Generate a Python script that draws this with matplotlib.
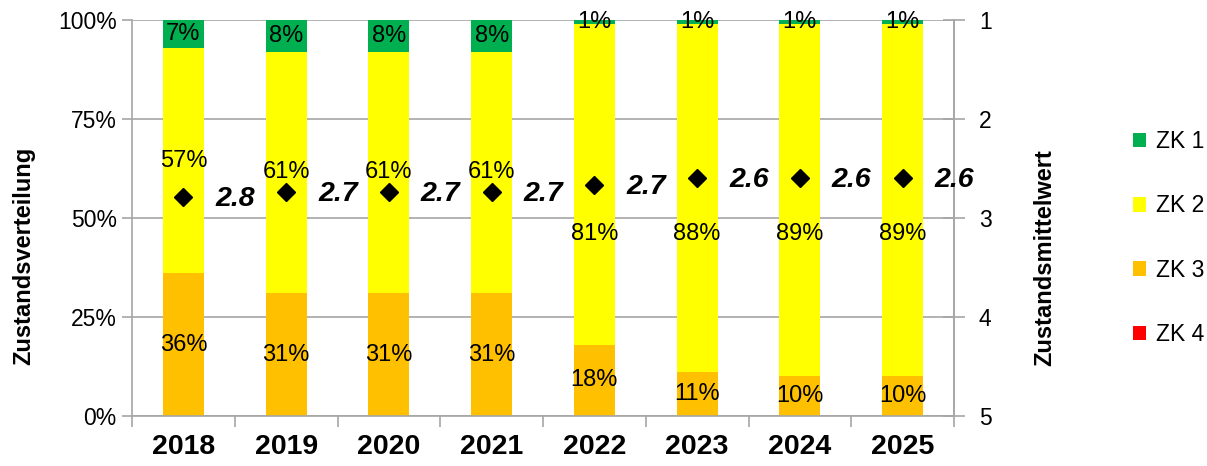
import matplotlib.pyplot as plt
from matplotlib.patches import Patch
from matplotlib.ticker import FixedLocator

plt.rcParams['font.family'] = ['Liberation Sans', 'DejaVu Sans']

# Zustandsklassen je Jahr (Anteile in %)
jahre = ['2018', '2019', '2020', '2021', '2022', '2023', '2024', '2025']
zk1 = [7, 8, 8, 8, 1, 1, 1, 1]
zk2 = [57, 61, 61, 61, 81, 88, 89, 89]
zk3 = [36, 31, 31, 31, 18, 11, 10, 10]
zk4 = [0, 0, 0, 0, 0, 0, 0, 0]
mittelwert = [2.79, 2.74, 2.74, 2.74, 2.67, 2.60, 2.60, 2.60]

# Hoehe der ZK 2 Beschriftung (in %), damit sie nicht auf der Raute liegt
zk2_label_y = [64.5, 61.5, 61.5, 61.5, 46, 46, 46, 46]

farben = {'ZK 1': '#00B050', 'ZK 2': '#FFFF00', 'ZK 3': '#FFC000', 'ZK 4': '#FF0000'}
grau = '#A6A6A6'

fig = plt.figure(figsize=(12.07, 4.66), dpi=100)
ax = fig.add_axes([132 / 1207, 1 - 416 / 466, (954 - 132) / 1207, (416 - 20) / 466])

x = list(range(len(jahre)))
breite = 0.4
unten = [0] * len(x)
for name, werte in [('ZK 4', zk4), ('ZK 3', zk3), ('ZK 2', zk2), ('ZK 1', zk1)]:
    ax.bar(x, werte, breite, bottom=unten, color=farben[name], linewidth=0, zorder=2)
    for i, v in enumerate(werte):
        if v == 0:
            continue
        y = unten[i] + v / 2
        if name == 'ZK 2':
            y = zk2_label_y[i]
        ax.text(x[i], y, f'{v}%', ha='center', va='center', fontsize=17, zorder=4)
    unten = [u + w for u, w in zip(unten, werte)]

ax.set_xlim(-0.5, len(jahre) - 0.5)
ax.set_ylim(0, 100)
ax.set_yticks([0, 25, 50, 75, 100])
ax.set_yticklabels(['0%', '25%', '50%', '75%', '100%'], fontsize=16.5)
ax.yaxis.grid(True, color=grau, linewidth=1.2, zorder=0)
ax.set_axisbelow(True)

ax.set_xticks(x)
ax.set_xticklabels(jahre, fontsize=20.5, fontweight='bold')
ax.xaxis.set_minor_locator(FixedLocator([i - 0.5 for i in range(len(jahre) + 1)]))
ax.tick_params(axis='x', which='major', length=0, pad=13)
ax.tick_params(axis='x', which='minor', length=8, color=grau, width=1.2)
ax.tick_params(axis='y', length=7, color=grau, width=1.2, pad=4)

ax.spines['top'].set_visible(False)
for s in ['left', 'bottom', 'right']:
    ax.spines[s].set_color(grau)
    ax.spines[s].set_linewidth(1.2)

ax.set_ylabel('Zustandsverteilung', fontsize=17, fontweight='bold')
ax.yaxis.set_label_coords(-0.118, 0.405)

# Zustandsmittelwert auf der rechten Achse (1 oben, 5 unten)
ax2 = ax.twinx()
ax2.set_ylim(5, 1)
ax2.set_yticks([1, 2, 3, 4, 5])
ax2.set_yticklabels(['1', '2', '3', '4', '5'], fontsize=16.5)
ax2.tick_params(axis='y', direction='inout', length=16, color=grau, width=1.2, pad=10)
for s in ['top', 'left', 'bottom']:
    ax2.spines[s].set_visible(False)
ax2.spines['right'].set_color(grau)
ax2.spines['right'].set_linewidth(1.2)
ax2.plot(x, mittelwert, linestyle='none', marker='D', markersize=9,
         color='black', zorder=5)
for xi, m in zip(x, mittelwert):
    ax2.annotate(f'{m:.1f}', (xi, m), xytext=(23, -1), textcoords='offset points',
                 ha='left', va='center', fontsize=20.5, fontweight='bold',
                 fontstyle='italic')
ax2.set_ylabel('Zustandsmittelwert', fontsize=17, fontweight='bold')
ax2.yaxis.set_label_coords(1.097, 0.40)

handles = [Patch(facecolor=farben[n], edgecolor='none', label=n)
           for n in ['ZK 1', 'ZK 2', 'ZK 3', 'ZK 4']]
fig.legend(handles=handles, loc='center left', bbox_to_anchor=(1112 / 1207, 1 - 238 / 466),
           frameon=False, fontsize=16.5, handlelength=0.6, handleheight=0.6,
           handletextpad=0.4, labelspacing=1.8)

fig.savefig('out.png', dpi=100)
